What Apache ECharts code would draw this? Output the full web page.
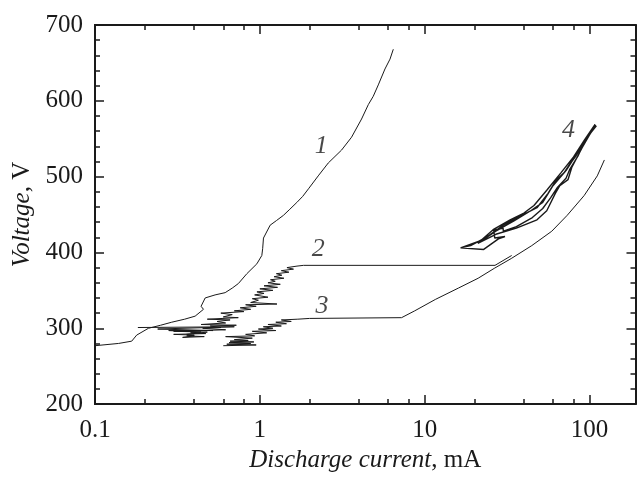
<!DOCTYPE html>
<html>
<head>
<meta charset="utf-8">
<script src="https://cdn.jsdelivr.net/npm/echarts@6/dist/echarts.min.js"></script>
<style>
  html, body { margin: 0; padding: 0; background: #fff; }
  #chart { width: 637px; height: 478px; }
</style>
</head>
<body>
<div id="chart"></div>
<script>
// curve 1
var curve1 = [[0.1,277],[0.139,280],[0.167,283],[0.179,291],[0.211,300],[0.25,304],[0.292,308],[0.35,312],
  [0.405,316],[0.455,325],[0.44,329],[0.466,340],[0.535,344],[0.616,347],[0.68,353],[0.741,359],[0.834,372],
  [0.959,385],[1.028,396],[1.04,405],[1.052,419],[1.155,436],[1.26,442],[1.391,449],[1.52,457],[1.677,466],
  [1.82,474],[1.973,484],[2.26,501],[2.6,518],[3.13,535],[3.6,552],[4.14,576],[4.55,595],[4.875,606],
  [5.23,621],[5.74,642],[6.16,655],[6.45,668]];

// curve 2 (zigzag then plateau)
var curve2 = [[0.182,301],[0.70,302],[0.24,299],[0.52,297],[0.28,297],[0.44,295],[0.38,294],[0.47,293],
  [0.30,292],[0.40,291],[0.36,290],[0.46,289],[0.34,288],[0.40,290],[0.36,292],[0.48,295],[0.30,296],
  [0.62,298],[0.45,300],[0.58,301],[0.50,303],[0.72,304],[0.44,305],[0.62,307],[0.55,309],[0.66,311],
  [0.48,312],[0.74,314],[0.60,315],[0.68,318],[0.58,320],[0.80,322],[0.70,323],[0.88,325],[0.76,327],
  [0.95,329],[0.82,331],[1.27,332],[0.88,334],[0.98,337],[0.90,339],[1.12,341],[0.93,344],[1.06,346],
  [0.96,348],[1.20,350],[1.0,352],[1.28,354],[1.06,356],[1.33,358],[1.12,360],[1.24,362],[1.16,364],
  [1.40,366],[1.22,368],[1.36,370],[1.26,372],[1.50,374],[1.35,376],[1.60,378],[1.46,380],[1.68,382],
  [1.84,383],[26.7,383],[33.7,396]];

// curve 3 (zigzag, plateau, rise)
var curve3 = [[0.60,277],[0.95,278],[0.63,279],[0.88,280],[0.65,281],[0.92,282],[0.66,283],[0.85,284],
  [0.70,285],[0.90,287],[0.62,289],[0.93,290],[0.82,292],[1.10,294],[0.90,296],[1.25,297],[0.98,299],
  [1.20,300],[1.05,302],[1.35,303],[1.12,305],[1.45,306],[1.25,308],[1.55,309],[1.35,311],[1.70,312],
  [2.0,313],[7.24,314],[8.7,323],[11.6,338],[16.0,353],[21.1,366],[26.4,379],[33.5,392],
  [44.6,409],[59,428],[73.2,449],[92.7,475],[111.4,501],[123,522]];

// curve 4 (several overlapping passes)
var curve4 = [[16.5,406],[22,416],[26,430],[33,443],[40,452],[46,462],[55,482],[67,505],[80,526],[93,548],[108,569],
  [104,563],[95,550],[85,527],[76,510],[72,498],[64,486],[58,472],[52,458],[45,446],[36,434],[30,428],
  [29.9,432],[26.2,430],[26.6,419],[30.7,421],[28,418],[22.8,404],[16.5,406],
  [19,409],[24,421],[30,436],[38,448],[48,459],[56,478],[63,496],[70,505],[82,528],[96,551],[110,567],
  [103,560],[90,538],[78,512],[74,496],[66,488],[62,478],[55,455],[48,443],[36,432],[27,424],[21,412],
  [27,428],[35,442],[44,455],[52,466],[60,488],[72,508],[86,534],[100,556],[109,568],
  [98,552],[84,530],[75,515],[82,526],[94,547],[107,566]];

var curveLabels = [[2.36,540,'1'],[2.26,404,'2'],[2.38,329,'3'],[74.5,561,'4']];

var xMajor = [0.1, 1, 10, 100];
var xMinor = [0.2, 0.4, 0.6, 0.8, 2, 4, 6, 8, 20, 40, 60, 80];

var font = 'Liberation Serif';
var ink = '#1a1a1a';

function xAxisCfg(pos, ticks, len, withLabels) {
  return {
    type: 'log', logBase: 10, min: 0.1, max: 190, position: pos,
    axisLine: { show: true, onZero: false, lineStyle: { color: ink, width: 2 } },
    axisTick: { show: true, inside: true, length: len, customValues: ticks, lineStyle: { color: ink, width: 1.5 } },
    axisLabel: withLabels ? {
      show: true, customValues: xMajor, margin: 14, color: ink, fontSize: 25, fontFamily: font,
      formatter: function (v) { return String(v); }
    } : { show: false },
    splitLine: { show: false },
    minorTick: { show: false }
  };
}

function yAxisCfg(pos, withLabels) {
  return {
    type: 'value', min: 200, max: 700, interval: 100, position: pos,
    axisLine: { show: true, onZero: false, lineStyle: { color: ink, width: 2 } },
    axisTick: { show: true, inside: true, length: 9, lineStyle: { color: ink, width: 1.5 } },
    minorTick: { show: true, splitNumber: 5, length: 5, lineStyle: { color: ink, width: 1.5 } },
    axisLabel: withLabels ? { show: true, margin: 12, color: ink, fontSize: 25, fontFamily: font } : { show: false },
    splitLine: { show: false }
  };
}

var chart = echarts.init(document.getElementById('chart'));

var bottom = xAxisCfg('bottom', xMajor, 9, true);
bottom.name = '{i|Discharge current}{n|, mA}';
bottom.nameLocation = 'middle';
bottom.nameGap = 41;
bottom.nameTextStyle = {
  rich: {
    i: { fontSize: 25, fontStyle: 'italic', fontFamily: font, color: ink },
    n: { fontSize: 25, fontFamily: font, color: ink }
  }
};

var left = yAxisCfg('left', true);
left.name = '{i|Voltage}{n|, V}';
left.nameLocation = 'middle';
left.nameRotate = 90;
left.nameGap = 54;
left.nameTextStyle = {
  rich: {
    i: { fontSize: 25, fontStyle: 'italic', fontFamily: font, color: ink },
    n: { fontSize: 25, fontFamily: font, color: ink }
  }
};

function lineSeries(data, w) {
  return {
    type: 'line', data: data, xAxisIndex: 0, yAxisIndex: 0,
    showSymbol: false, symbol: 'none', smooth: false,
    lineStyle: { color: ink, width: w }, silent: true
  };
}

chart.setOption({
  animation: false,
  backgroundColor: '#fff',
  grid: { left: 95, top: 25, right: 1.5, bottom: 64.3, containLabel: false },
  xAxis: [
    bottom,
    xAxisCfg('bottom', xMinor, 5, false),
    xAxisCfg('top', xMajor, 9, false),
    xAxisCfg('top', xMinor, 5, false)
  ],
  yAxis: [left, yAxisCfg('right', false)],
  series: [
    lineSeries(curve1, 1),
    lineSeries(curve2, 1),
    lineSeries(curve3, 1),
    lineSeries(curve4, 1.4),
    {
      type: 'scatter', xAxisIndex: 0, yAxisIndex: 0, symbolSize: 0, silent: true,
      data: curveLabels,
      label: {
        show: true, position: 'inside', fontSize: 26, fontStyle: 'italic', fontFamily: font, color: ink,
        formatter: function (p) { return p.value[2]; }
      }
    }
  ]
});
</script>
</body>
</html>
